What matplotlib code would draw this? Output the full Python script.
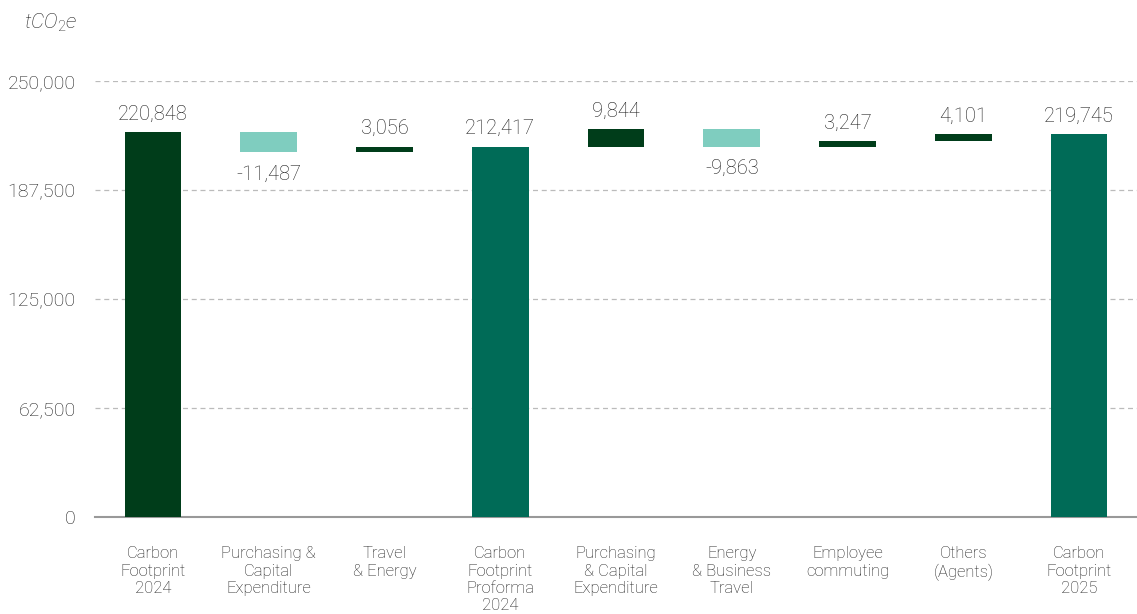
import matplotlib.pyplot as plt
import numpy as np

plt.rcParams['font.family'] = ['Roboto', 'DejaVu Sans']
plt.rcParams['mathtext.fontset'] = 'custom'
plt.rcParams['mathtext.it'] = 'Roboto:italic:light'
plt.rcParams['mathtext.rm'] = 'Roboto:light'

categories = ["Carbon\nFootprint\n2024", "Purchasing &\nCapital\nExpenditure", "Travel\n& Energy",
              "Carbon\nFootprint\nProforma\n2024", "Purchasing\n& Capital\nExpenditure",
              "Energy\n& Business\nTravel", "Employee\ncommuting", "Others\n(Agents)",
              "Carbon\nFootprint\n2025"]
values = [220848, -11487, 3056, 212417, 9844, -9863, 3247, 4101, 219745]
is_total = [True, False, False, True, False, False, False, False, True]
yticks = [0, 62500, 125000, 187500, 250000]

dark = "#003d1a"
teal = "#006b57"
light = "#7fcdbf"
txtcol = "#1e1e1e"

fig = plt.figure(figsize=(11.37, 6.14), dpi=100)
ax = fig.add_axes([0.0836, 0.158, 0.9164, 0.71])

running = 0
for i, (v, tot) in enumerate(zip(values, is_total)):
    if tot:
        bottom, h = 0, v
        col = dark if i == 0 else teal
        running = v
    else:
        bottom = running if v > 0 else running + v
        h = abs(v)
        col = dark if v > 0 else light
        running += v
    ax.bar(i, h, bottom=bottom, width=0.49, color=col, zorder=3)
    txt = f"{v:,}"
    if v > 0:
        ax.annotate(txt, (i, bottom + h), xytext=(0, 6), textcoords="offset points",
                    ha="center", va="bottom", fontsize=14.5, color=txtcol, fontweight="light")
    else:
        ax.annotate(txt, (i, bottom), xytext=(0, -9), textcoords="offset points",
                    ha="center", va="top", fontsize=14.5, color=txtcol, fontweight="light")

ax.set_xlim(-0.5, len(values) - 0.5)
ax.set_ylim(0, 250000)
ax.set_yticks(yticks)
ax.set_yticklabels([f"{t:,}" for t in yticks], fontsize=14, color=txtcol, fontweight="light")
ax.set_xticks(range(len(categories)))
ax.set_xticklabels(categories, fontsize=12, color=txtcol, fontweight="light", va="top",
                   linespacing=1.2)
ax.tick_params(axis="x", length=0, pad=21)
ax.tick_params(axis="y", length=0, pad=14)
ax.yaxis.grid(True, linestyle=(0, (4, 3)), color="#bbbbbb", linewidth=0.9, zorder=0)
ax.set_axisbelow(True)
for s in ["top", "right", "left"]:
    ax.spines[s].set_visible(False)
ax.spines["bottom"].set_color("#999999")
ax.spines["bottom"].set_linewidth(1.5)

fig.text(0.068, 0.962, r"$\mathit{tCO}_{\mathit{2}}\mathit{e}$", ha="right", va="center",
         fontsize=15, color=txtcol)

fig.savefig("out.png", dpi=100)
